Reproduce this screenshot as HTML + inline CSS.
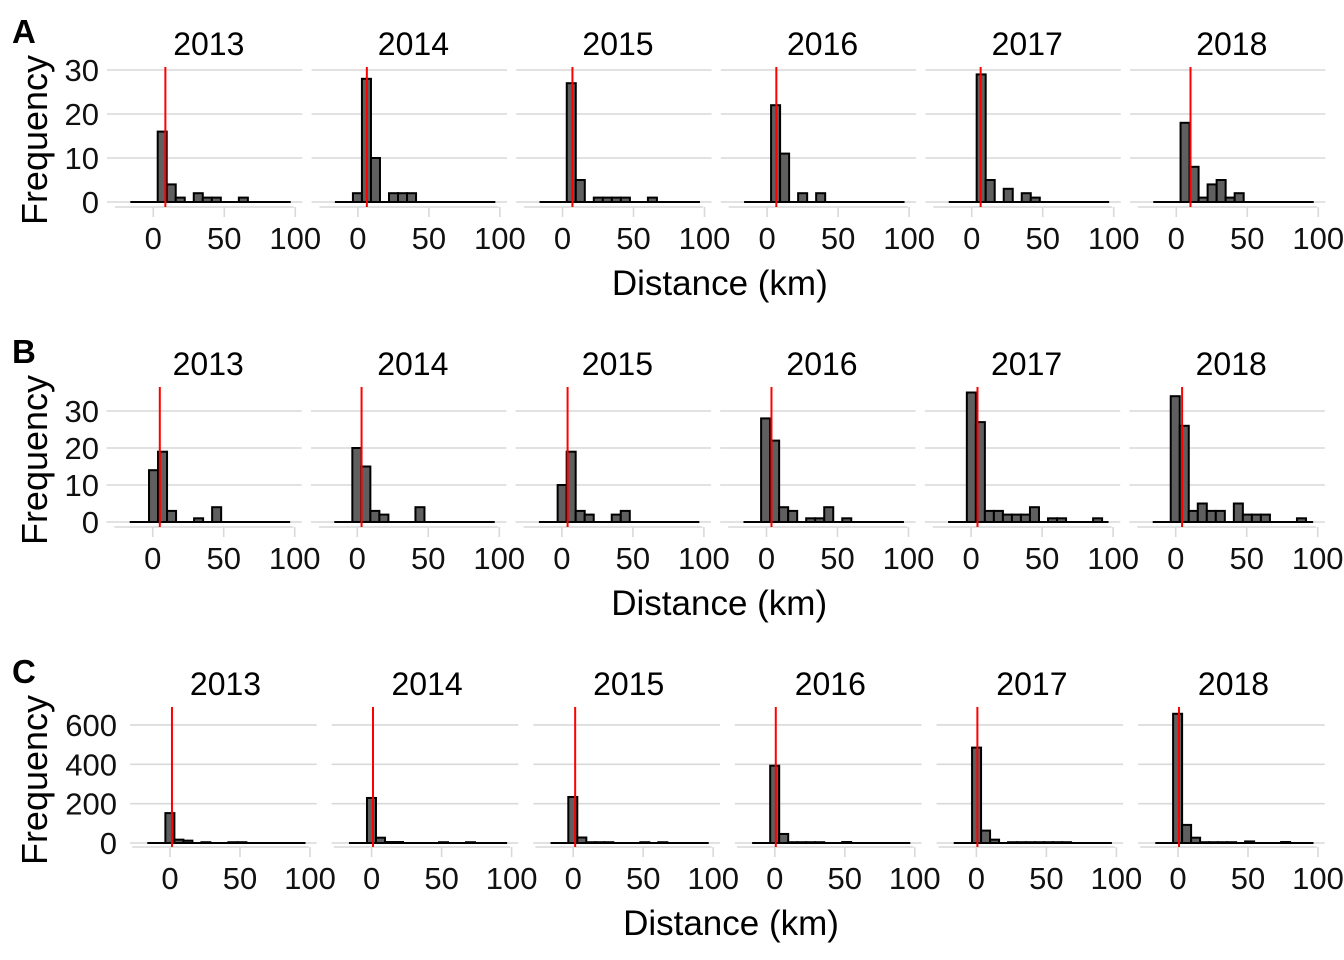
<!DOCTYPE html>
<html><head><meta charset="utf-8">
<style>
html,body{margin:0;padding:0;background:#fff;}
svg{display:block;font-family:"Liberation Sans",Arial,sans-serif;}
</style></head>
<body>
<svg id="chart" width="1344" height="960" viewBox="0 0 1344 960" xmlns="http://www.w3.org/2000/svg"></svg>
<script>
const years = ["2013","2014","2015","2016","2017","2018"];
const rowTags = ["A","B","C"];
const rowYTicks = [[0,10,20,30],[0,10,20,30],[0,200,400,600]];
const xTicks = [0,50,100];
// bin start (km) per panel
const binStartA = [3.1,-3.5,3.0,2.8,3.5,3.0];
const binStartB = [-2.6,-3.5,-3.0,-3.8,-3.0,-3.5];
const binStartC = [-3.3,-3.3,-3.5,-3.3,-3.1,-3.5];
// counts per panel
const countsA = [
  [16,4,1,0,2,1,1,0,0,1],
  [2,28,10,0,2,2,2],
  [27,5,0,1,1,1,1,0,0,1],
  [22,11,0,2,0,2],
  [29,5,0,3,0,2,1],
  [18,8,1,4,5,1,2]
];
const countsB = [
  [14,19,3,0,0,1,0,4],
  [20,15,3,2,0,0,0,4],
  [10,19,3,2,0,0,2,3],
  [28,22,4,3,0,1,1,4,0,1],
  [35,27,3,3,2,2,2,4,0,1,1,0,0,0,1],
  [34,26,3,5,3,3,0,5,2,2,2,0,0,0,1]
];
const countsC = [
  [152,17,12,0,4,0,0,4,4],
  [229,27,5,5,0,0,0,0,4,0,0,4],
  [234,28,4,4,4,0,0,0,4,0,4],
  [393,46,4,4,4,4,0,0,5],
  [485,63,17,0,4,4,4,4,4,4,4],
  [657,92,27,4,4,4,4,0,8,0,0,0,5]
];
// medians (red lines)
const medianA = [8.5,6.3,7.0,6.5,6.3,10.0];
const medianB = [5.0,3.0,4.0,3.5,4.5,4.5];
const medianC = [1.4,1.0,1.4,0.7,0.7,0.7];

const rows = [
  {starts:binStartA,counts:countsA,med:medianA,zero0:153.3,dz:204.6,kx:1.42,y0:202,ky:4.4,bw:6.35,top:67,axisY:207,offY:0},
  {starts:binStartB,counts:countsB,med:medianB,zero0:152.7,dz:204.6,kx:1.42,y0:522,ky:3.7,bw:6.35,top:387,axisY:527,offY:320},
  {starts:binStartC,counts:countsC,med:medianC,zero0:170,dz:201.6,kx:1.40,y0:843,ky:0.1967,bw:6.43,top:707,axisY:847,offY:640}
];
const NS="http://www.w3.org/2000/svg";
const svg=document.getElementById('chart');
function mk(tag,attrs,parent){const e=document.createElementNS(NS,tag);for(const k in attrs)e.setAttribute(k,attrs[k]);(parent||svg).appendChild(e);return e;}

rows.forEach((r,ri)=>{
  const g=mk('g',{});
  
  
  const tag=mk('text',{x:12,y:43+r.offY,'font-size':33,'font-weight':'bold'},g);
  tag.textContent=rowTags[ri];
  
  
  const yt=mk('text',{transform:`translate(47,${140+r.offY}) rotate(-90)`,'font-size':36,'text-anchor':'middle'},g);
  yt.textContent='Frequency';
  
  
  const yScale=v=>r.y0-v*r.ky;
  const labRight = ri===2?117:99;
  rowYTicks[ri].forEach(t=>{
    const tl=mk('text',{x:labRight,y:yScale(t)+11,'font-size':31,'text-anchor':'end',fill:'#111'},g);
    tl.textContent=t;
    
    
  });
  const zLast=r.zero0+5*r.dz;
  const xt=mk('text',{x:(r.zero0+zLast)/2+55+(ri===2?2:0),y:295+r.offY,'font-size':35,'text-anchor':'middle'},g);
  xt.textContent='Distance (km)';
  
  

  years.forEach((yr,pi)=>{
    const z=r.zero0+pi*r.dz;
    const xs=v=>z+v*r.kx;
    const pg=mk('g',{},g);
    
    
    const left=xs(ri===2?-28.5:-32.6), right=xs(ri===2?104.8:105);
    rowYTicks[ri].forEach(t=>{
      const gl=mk('line',{x1:left,x2:right,y1:yScale(t),y2:yScale(t),stroke:'#d9d9d9','stroke-width':1.6},pg);
      
      
    });
    const ax=mk('line',{x1:xs(-27),x2:xs(99),y1:r.axisY,y2:r.axisY,stroke:'#d9d9d9','stroke-width':1.6},pg);
    
    
    xTicks.forEach(t=>{
      const tk=mk('line',{x1:xs(t),x2:xs(t),y1:r.axisY,y2:r.axisY+10,stroke:'#d9d9d9','stroke-width':1.6},pg);
      
      
      const tl=mk('text',{x:xs(t),y:r.axisY+42,'font-size':31,'text-anchor':'middle',fill:'#111'},pg);
      tl.textContent=t;
      
      
    });
    const title=mk('text',{x:z+55.5,y:55+r.offY,'font-size':32,'text-anchor':'middle'},pg);
    title.textContent=yr;
    
    
    const bl=mk('line',{x1:xs(-16.2),x2:xs(96.8),y1:r.y0,y2:r.y0,stroke:'#000','stroke-width':2},pg);
    
    
    r.counts[pi].forEach((c,bi)=>{
      if(c<=0)return;
      const x0=xs(r.starts[pi]+bi*r.bw), x1=xs(r.starts[pi]+(bi+1)*r.bw);
      const rc=mk('rect',{x:x0,y:yScale(c),width:x1-x0,height:r.y0-yScale(c),fill:'#5f5f5f',stroke:'#000','stroke-width':2},pg);
      
      
    });
    const ml=mk('line',{x1:xs(r.med[pi]),x2:xs(r.med[pi]),y1:r.top,y2:r.axisY,stroke:'#ff0000','stroke-width':2},pg);
    
    
  });
});
</script>
</body></html>
